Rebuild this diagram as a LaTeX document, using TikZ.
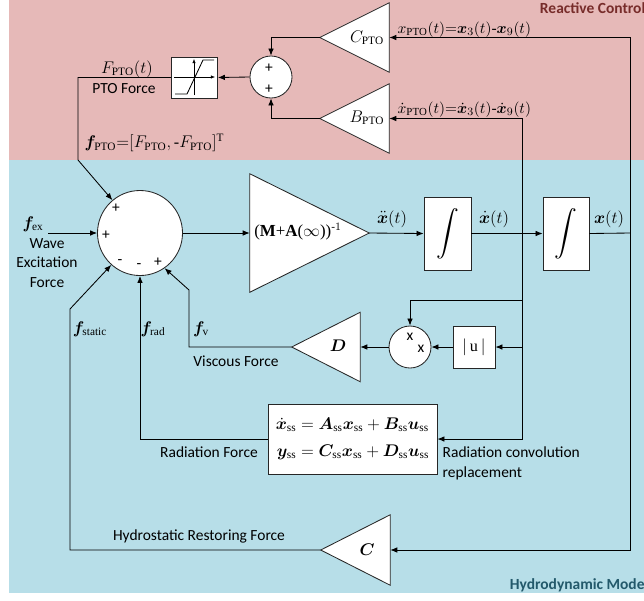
\documentclass[tikz,border=0pt]{standalone}
\usepackage{amsmath}
\usepackage{fontspec}
\setmainfont{Liberation Serif}
\newfontfamily\lab{Carlito}
\usepackage{bm}
\usetikzlibrary{arrows.meta,positioning,calc}
\definecolor{ctrlbg}{HTML}{E6B9B8}
\definecolor{hydrobg}{HTML}{B7DEE8}
\definecolor{ctrltxt}{HTML}{772C2A}
\definecolor{hydrotxt}{HTML}{23596B}

\begin{document}
\begin{tikzpicture}[x=0.025cm, y=-0.025cm,
    every node/.style={font=\fontsize{11.5}{13}\selectfont, inner sep=1pt},
    lbl/.style={font=\lab\fontsize{11}{14}\selectfont},
    blk/.style={draw=black!85, fill=white, line width=0.6pt, inner sep=0pt},
    tri/.style={fill=white, draw=black!85, line width=0.6pt},
    sig/.style={line width=0.6pt, -{Latex[length=5pt,width=4pt]}},
    wire/.style={line width=0.6pt}]
    \useasboundingbox (0,0) rectangle (644,600);
    % Regions
    \fill[ctrlbg] (9,0) rectangle (644,160);
    \fill[hydrobg] (9,160) rectangle (644,593);
    \node[lbl, font=\lab\bfseries\fontsize{11}{14}\selectfont, text=ctrltxt, anchor=east] (rcname) at (647,8) {Reactive Control};
    \node[lbl, font=\lab\bfseries\fontsize{11}{14}\selectfont, text=hydrotxt, anchor=east] (hmname) at (650,585) {Hydrodynamic Model};
    % Blocks
    \node[inner sep=0pt, minimum width=1.725cm, minimum height=1.725cm] (cpto) at (354.5,37.5) {};
    \node[inner sep=0pt, minimum width=1.725cm, minimum height=1.725cm] (bpto) at (354.5,118.5) {};
    \node[inner sep=0pt, minimum width=2.975cm, minimum height=2.95cm] (gain) at (309.5,233) {};
    \node[inner sep=0pt, minimum width=1.7cm, minimum height=1.725cm] (dgain) at (326,347) {};
    \node[inner sep=0pt, minimum width=1.725cm, minimum height=1.75cm] (cgain) at (355.5,550) {};
    \filldraw[tri] (cpto.west) -- (cpto.north east) -- (cpto.south east) -- cycle;
    \filldraw[tri] (bpto.west) -- (bpto.north east) -- (bpto.south east) -- cycle;
    \filldraw[tri] (gain.north west) -- (gain.east) -- (gain.south west) -- cycle;
    \filldraw[tri] (dgain.west) -- (dgain.north east) -- (dgain.south east) -- cycle;
    \filldraw[tri] (cgain.west) -- (cgain.north east) -- (cgain.south east) -- cycle;
    \node (cptotxt) at (367,38) {$C_{\mathrm{PTO}}$};
    \node (bptotxt) at (367,118) {$B_{\mathrm{PTO}}$};
    \node[font=\fontsize{12}{14}\selectfont] (gaintxt) at (298,232) {(\textbf{M}+\textbf{A}($\infty$))$^{\text{-}1}$};
    \node[font=\fontsize{13}{14}\selectfont] (dtxt) at (338,346) {$\bm{D}$};
    \node[font=\fontsize{13}{14}\selectfont] (ctxt) at (367,550) {$\bm{C}$};

    \node[blk, minimum width=1.15cm, minimum height=1.025cm] (sat) at (194.5,77.5) {};
    \draw[line width=0.4pt, -{Latex[length=3pt,width=2.5pt]}] (174,77) -- (215,77);
    \draw[line width=0.4pt, -{Latex[length=3pt,width=2.5pt]}] (194,95) -- (194,59);
    \draw[line width=0.6pt] (175,94) -- (187,94) -- (203,60) -- (214,60);
    \node[blk, circle, minimum size=1.05cm] (sumpto) at (271,77) {};
    \node[lbl] (sp1) at (269,68) {+};
    \node[lbl] (sp2) at (269,89) {+};

    \node[blk, circle, minimum size=2.125cm] (sum) at (140,233) {};
    \node[lbl] (sg1) at (116,208) {+};
    \node[lbl] (sg2) at (106,235) {+};
    \node[lbl] (sg3) at (120,262) {-};
    \node[lbl] (sg4) at (139,266) {-};
    \node[lbl] (sg5) at (158,262) {+};

    \node[blk, minimum width=1.175cm, minimum height=1.825cm] (int1) at (447.5,233.5) {\scalebox{1.35}{$\displaystyle\int$}};
    \node[blk, minimum width=1.15cm, minimum height=1.825cm] (int2) at (566,233.5) {\scalebox{1.35}{$\displaystyle\int$}};
    \node[blk, circle, minimum size=1.05cm] (mult) at (410,347) {};
    \node[lbl] (mx1) at (410,337) {x};
    \node[lbl] (mx2) at (421,349) {x};
    \node[blk, minimum width=1.05cm, minimum height=1.05cm] (absu) at (474,347) {$|\,\mathrm{u}\,|$};
    \node[blk, minimum width=4.225cm, minimum height=1.75cm] (rad) at (352.5,439)
        {$\begin{aligned}\dot{\bm{x}}_{\mathrm{ss}} &= \bm{A}_{\mathrm{ss}}\bm{x}_{\mathrm{ss}} + \bm{B}_{\mathrm{ss}}\bm{u}_{\mathrm{ss}}\\[3pt]
          \bm{y}_{\mathrm{ss}} &= \bm{C}_{\mathrm{ss}}\bm{x}_{\mathrm{ss}} + \bm{D}_{\mathrm{ss}}\bm{u}_{\mathrm{ss}}\end{aligned}$};

    % Junctions
    \coordinate (xbus) at (630,233);
    \coordinate (vbus) at (522,233);
    \coordinate (vtap) at (522,300);
    \coordinate (vabs) at (522,347);
    \coordinate (fptobend) at (78,160);
    \coordinate (fexin) at (48,233);
    \coordinate (fstbend) at (70,309);
    \coordinate (fvbend) at (189,290);

    % Signals
    \draw[sig] (xbus) |- (cpto.east);
    \draw[sig] (xbus) |- (cgain.east);
    \draw[wire] (int2.east) -- (xbus);
    \draw[sig] (vbus) |- (bpto.east);
    \draw[sig] (vbus) |- (rad.east);
    \draw[sig] (vtap) -| (mult.north);
    \draw[sig] (vabs) -- (absu.east);
    \draw[sig] (absu.west) -- (mult.east);
    \draw[sig] (mult.west) -- (dgain.east);
    \draw[sig] (cpto.west) -| (sumpto.north);
    \draw[sig] (bpto.west) -| (sumpto.south);
    \draw[sig] (sumpto.west) -- (sat.east);
    \draw[sig] (sat.west) -| (fptobend) -- (sum.130);
    \draw[sig] (fexin) -- (sum.west);
    \draw[sig] (cgain.west) -| (fstbend) -- (sum.228);
    \draw[sig] (rad.west) -| (sum.south);
    \draw[sig] (dgain.west) -| (fvbend) -- (sum.305);
    \draw[sig] (sum.east) -- (gain.west);
    \draw[sig] (gain.east) -- (int1.west);
    \draw[sig] (int1.east) -- (int2.west);

    % Labels
    \node[anchor=south west, font=\fontsize{11}{13}\selectfont] (lxpto) at (396,39) {$x_{\mathrm{PTO}}(t){=}\bm{x}_3(t)\text{-}\bm{x}_9(t)$};
    \node[anchor=south west, font=\fontsize{11}{13}\selectfont] (lvpto) at (396,119) {$\dot{x}_{\mathrm{PTO}}(t){=}\dot{\bm{x}}_3(t)\text{-}\dot{\bm{x}}_9(t)$};
    \node (lfpto) at (127,69) {$F_{\mathrm{PTO}}(t)$};
    \node[lbl] (lptoforce) at (124,89) {PTO Force};
    \node[anchor=west] (lfptovec) at (83,143) {$\bm{f}_{\mathrm{PTO}}{=}[F_{\mathrm{PTO}},\text{-}F_{\mathrm{PTO}}]^{\mathrm{T}}$};
    \node (lfex) at (33,224) {$\bm{f}_{\mathrm{ex}}$};
    \node[lbl, align=center] (lwave) at (47,263) {Wave\\Excitation\\Force};
    \node (lfst) at (90,329) {$\bm{f}_{\mathrm{static}}$};
    \node (lfrad) at (153,329) {$\bm{f}_{\mathrm{rad}}$};
    \node (lfv) at (201,329) {$\bm{f}_{\mathrm{v}}$};
    \node (lxdd) at (392,219) {$\ddot{\bm{x}}(t)$};
    \node (lxd) at (494,219) {$\dot{\bm{x}}(t)$};
    \node (lx) at (609,219) {$\bm{x}(t)$};
    \node[lbl] (lvisc) at (236,361) {Viscous Force};
    \node[lbl] (lradf) at (209,452) {Radiation Force};
    \node[lbl, align=left, anchor=north west] (lradconv) at (441,445) {Radiation convolution\\replacement};
    \node[lbl] (lhydro) at (199,536) {Hydrostatic Restoring Force};
\end{tikzpicture}
\end{document}
